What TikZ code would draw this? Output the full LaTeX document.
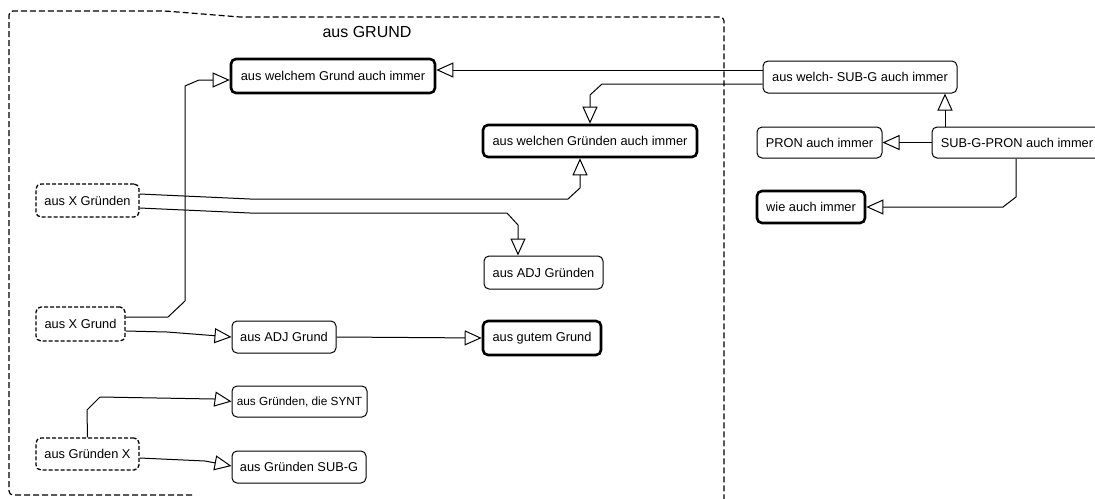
\documentclass[tikz,border=0pt]{standalone}
\usepackage{fontspec}
\setmainfont{Liberation Sans}
\usetikzlibrary{arrows.meta}
\begin{document}
\begin{tikzpicture}[x=1pt,y=-1pt,
  box/.style={draw, rounded corners=5pt, line width=1pt, inner sep=0pt, align=center, font=\fontsize{12.8}{15}\selectfont},
  thickbox/.style={box, line width=2.6pt},
  dashbox/.style={box, line width=1.3pt, dash pattern=on 4pt off 2pt},
  arr/.style={line width=1pt, -{Triangle[open, length=17pt, width=15pt, line width=1pt]}},
  frame/.style={line width=1.2pt, dash pattern=on 6pt off 3pt, rounded corners=4pt}
]
\useasboundingbox (0,0) rectangle (1095,498);
% container
\draw[frame] (192,495) -- (9,495) -- (9,11) -- (165,11) [sharp corners] -- (240,17) [rounded corners=4pt] -- (724,17) -- (724,500);
\node[font=\fontsize{16}{18}\selectfont] (title) at (367,32) {aus GRUND};

% nodes
\node[thickbox, minimum width=204pt, minimum height=34pt] (n1) at (333,76) {aus welchem Grund auch immer};
\node[thickbox, minimum width=214pt, minimum height=32pt] (n2) at (590,141) {aus welchen Gründen auch immer};
\node[box, minimum width=194pt, minimum height=32pt] (n3) at (860,77) {aus welch- SUB-G auch immer};
\node[box, minimum width=125pt, minimum height=31pt] (n4) at (819.5,142.5) {PRON auch immer};
\node[box, minimum width=170pt, minimum height=31pt] (n5) at (1017,142.5) {SUB-G-PRON auch immer};
\node[thickbox, minimum width=108pt, minimum height=32pt] (n6) at (811,207) {wie auch immer};
\node[dashbox, minimum width=103pt, minimum height=33pt] (n7) at (87.5,200.5) {aus X Gründen};
\node[dashbox, minimum width=89pt, minimum height=34pt] (n8) at (80.5,324) {aus X Grund};
\node[box, minimum width=104pt, minimum height=32pt] (n9) at (284,337) {aus ADJ Grund};
\node[box, minimum width=119pt, minimum height=33pt] (n10) at (543.5,272.5) {aus ADJ Gründen};
\node[thickbox, minimum width=118pt, minimum height=34pt] (n11) at (542,338) {aus gutem Grund};
\node[box, minimum width=135pt, minimum height=31pt, font=\fontsize{11.8}{14}\selectfont] (n12) at (299.5,401.5) {aus Gründen, die SYNT};
\node[box, minimum width=134pt, minimum height=32pt] (n13) at (299,467) {aus Gründen SUB-G};
\node[dashbox, minimum width=103pt, minimum height=32pt] (n14) at (87.5,454) {aus Gründen X};

% connectors
\draw[arr] ([yshift=7pt]n3.west) -- ([yshift=6pt]n1.east);
\draw[arr] ([yshift=-7pt]n3.west) -- (602,84) -- (590,95) -- (n2.north);
\draw[arr] ([xshift=-72pt]n5.north) -- ([xshift=85pt]n3.south);
\draw[arr] (n5.west) -- (n4.east);
\draw[arr] ([xshift=-1pt]n5.south) -- (1016,197) -- (1003,207) -- (n6.east);
\draw[arr] ([yshift=6.5pt]n7.east) -- (250,199) -- (568,199) -- (580,188) -- ([xshift=-10pt]n2.south);
\draw[arr] ([yshift=-7.5pt]n7.east) -- (250,213) -- (507,213) -- (518,225) -- ([xshift=-25.5pt]n10.north);
\draw[arr] ([yshift=7pt]n8.east) -- (168,317) -- (185,301) -- (185,86) -- (199,80) -- ([yshift=-4pt]n1.west);
\draw[arr] ([yshift=-7pt]n8.east) -- (167,332) -- (n9.west);
\draw[arr] (n9.east) -- (n11.west);
\draw[arr] (n14.north) -- (87,410) -- (100,397) -- (214,399) -- (n12.west);
\draw[arr] ([yshift=-4pt]n14.east) -- (205,461) -- ([yshift=1pt]n13.west);
\end{tikzpicture}
\end{document}
